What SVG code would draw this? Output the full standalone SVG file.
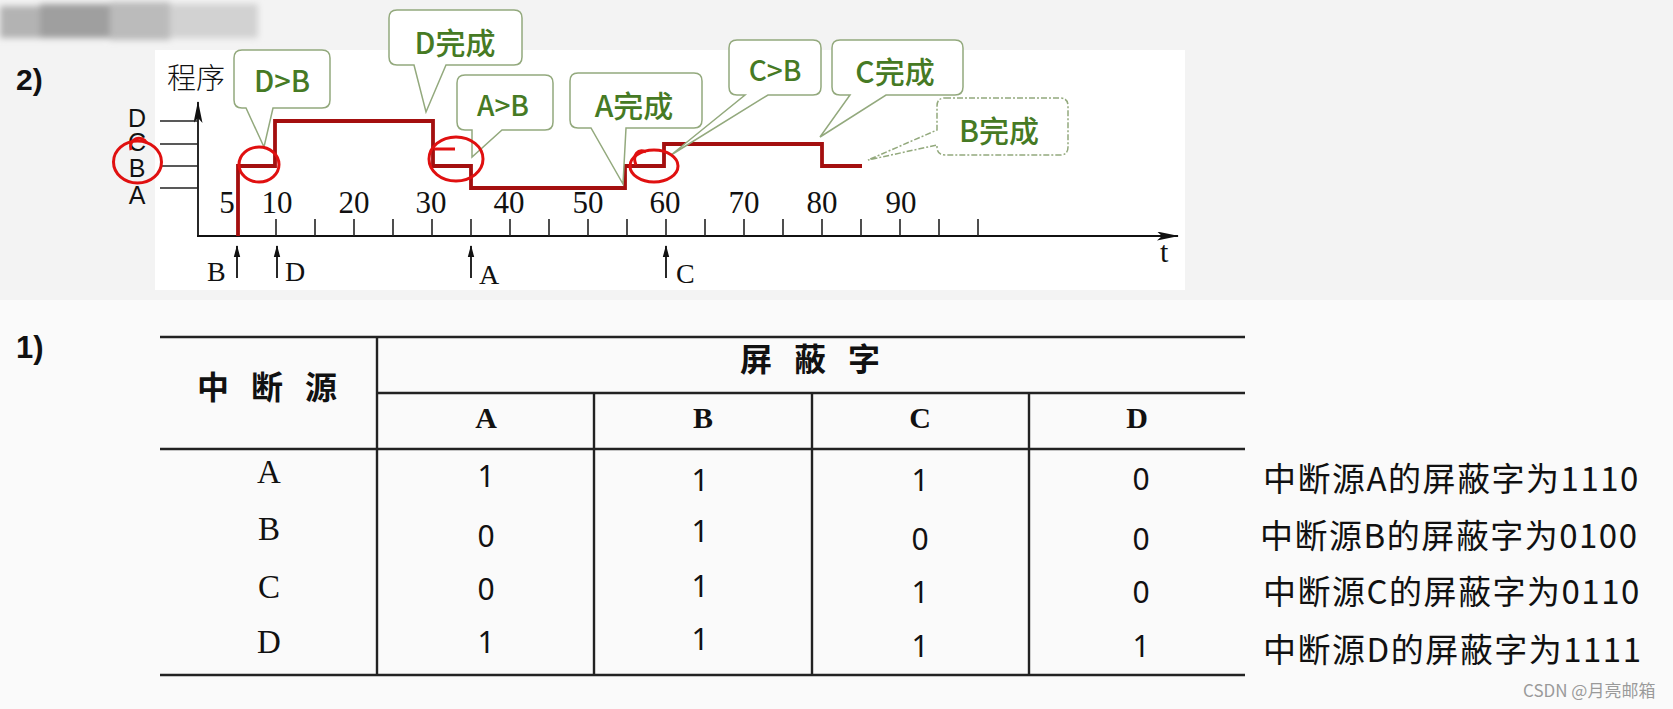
<svg xmlns="http://www.w3.org/2000/svg" width="1673" height="709" viewBox="0 0 1673 709">
<defs>
<filter id="blur" x="-20%" y="-50%" width="140%" height="200%"><feGaussianBlur stdDeviation="3"/></filter>
<marker id="ah" viewBox="0 0 12 8" refX="11" refY="4" markerWidth="12" markerHeight="8" markerUnits="userSpaceOnUse" orient="auto"><path d="M0,0.8 L12,4 L0,7.2 Z" fill="#111"/></marker>
<marker id="axh" viewBox="0 0 22 9" refX="21" refY="4.5" markerWidth="22" markerHeight="9" markerUnits="userSpaceOnUse" orient="auto"><path d="M0,0 L22,4.5 L0,9 L5,4.5 Z" fill="#111"/></marker>
</defs>
<style>
.ax{stroke:#111;stroke-width:1.8;fill:none}
.tick{stroke:#222;stroke-width:1.6}
.serif{font-family:"Liberation Serif","Times New Roman",serif;fill:#111}
.sans{font-family:"Liberation Sans",Arial,sans-serif;fill:#111}
.cjk{font-family:"Noto Sans CJK SC","Noto Sans",sans-serif;fill:#111}
.prog{stroke:#a40f0f;stroke-width:3.8;fill:none;stroke-linejoin:miter}
.ring{stroke:#e01010;stroke-width:3;fill:none}
.call{fill:#fff;stroke:#93a97d;stroke-width:1.5}
.callt{font-family:"Noto Sans CJK SC","Noto Sans",sans-serif;fill:#467a24;font-weight:500;text-anchor:middle}
.tl{stroke:#222;stroke-width:2.4}
.hd{font-family:"Noto Sans CJK SC",sans-serif;font-weight:700;font-size:32px;fill:#111}
.ch{font-family:"Liberation Serif",serif;font-weight:700;font-size:30px;text-anchor:middle;fill:#111}
.rl{font-family:"Liberation Serif",serif;font-size:33px;text-anchor:middle;fill:#111}
.val{font-family:"Noto Sans","Liberation Sans",sans-serif;font-size:30px;text-anchor:middle;fill:#111}
.note{font-family:"Noto Sans CJK SC",sans-serif;font-size:33px;letter-spacing:1.5px;fill:#111}
.yl{font-family:"Liberation Sans",Arial,sans-serif;font-size:25px;text-anchor:middle;fill:#111}
</style>
<rect x="0" y="0" width="1673" height="709" fill="#fafafa"/>
<rect x="0" y="0" width="1673" height="300" fill="#f3f3f3"/>
<g id="blurred" filter="url(#blur)">
<rect x="0" y="6" width="40" height="32" fill="#b3b3b3"/>
<rect x="40" y="4" width="70" height="34" fill="#9f9f9f"/>
<rect x="110" y="2" width="60" height="38" fill="#bbbbbb"/>
<rect x="170" y="4" width="88" height="34" fill="#d2d2d2"/>
</g>
<rect id="graph-bg" x="155" y="50" width="1030" height="240" fill="#ffffff"/>
<text class="sans" x="16" y="90" font-size="30" font-weight="700">2)</text>
<text class="sans" x="16" y="358" font-size="31" font-weight="700">1)</text>

<g id="axes">
<line class="ax" x1="198" y1="237" x2="198" y2="102" marker-end="url(#axh)"/>
<line class="ax" x1="197" y1="236" x2="1178" y2="236" marker-end="url(#axh)"/>
<text class="cjk" x="167" y="89" font-size="29" font-weight="300">程序</text>
<text class="serif" x="1160" y="262" font-size="30">t</text>
<g class="tick">
<line x1="160" y1="121" x2="198" y2="121"/><line x1="160" y1="144" x2="198" y2="144"/>
<line x1="160" y1="166" x2="198" y2="166"/><line x1="160" y1="188" x2="198" y2="188"/>
<line x1="276" y1="219" x2="276" y2="236"/><line x1="315" y1="219" x2="315" y2="236"/>
<line x1="354" y1="219" x2="354" y2="236"/><line x1="393" y1="219" x2="393" y2="236"/>
<line x1="432" y1="219" x2="432" y2="236"/><line x1="471" y1="219" x2="471" y2="236"/>
<line x1="510" y1="219" x2="510" y2="236"/><line x1="549" y1="219" x2="549" y2="236"/>
<line x1="588" y1="219" x2="588" y2="236"/><line x1="627" y1="219" x2="627" y2="236"/>
<line x1="666" y1="219" x2="666" y2="236"/><line x1="705" y1="219" x2="705" y2="236"/>
<line x1="744" y1="219" x2="744" y2="236"/><line x1="783" y1="219" x2="783" y2="236"/>
<line x1="822" y1="219" x2="822" y2="236"/><line x1="861" y1="219" x2="861" y2="236"/>
<line x1="900" y1="219" x2="900" y2="236"/><line x1="939" y1="219" x2="939" y2="236"/>
<line x1="978" y1="219" x2="978" y2="236"/>
</g>
<text class="yl" x="137" y="127">D</text>
<text class="yl" x="137" y="151">C</text>
<text class="yl" x="137" y="177">B</text>
<text class="yl" x="137" y="204">A</text>
<g class="serif" font-size="31" text-anchor="middle">
<text x="227" y="213">5</text><text x="277" y="213">10</text><text x="354" y="213">20</text>
<text x="431" y="213">30</text><text x="509" y="213">40</text><text x="588" y="213">50</text>
<text x="665" y="213">60</text><text x="744" y="213">70</text><text x="822" y="213">80</text>
<text x="901" y="213">90</text>
</g>
</g>

<g id="connectors">
<path class="prog" d="M238,236 V166 H275 V121 H433 V166 H471 V188 H625 V166 H664 V144 H822 V166 H862"/>
<line class="ax" x1="237" y1="278" x2="237" y2="246" marker-end="url(#ah)"/>
<line class="ax" x1="277" y1="278" x2="277" y2="246" marker-end="url(#ah)"/>
<line class="ax" x1="471" y1="278" x2="471" y2="246" marker-end="url(#ah)"/>
<line class="ax" x1="666" y1="278" x2="666" y2="246" marker-end="url(#ah)"/>
<g class="serif" font-size="28">
<text x="207" y="281">B</text><text x="285" y="281">D</text>
<text x="479" y="284">A</text><text x="676" y="283">C</text>
</g>
</g>

<g id="callout-DB"><path class="call" d="M242,50 H322 Q330,50 330,58 V100 Q330,108 322,108 H273 L264,147 L246,108 H242 Q234,108 234,100 V58 Q234,50 242,50 Z"/><text class="callt" x="282" y="92" font-size="29">D&gt;B</text></g>
<g id="callout-Ddone"><path class="call" d="M397,10 H514 Q522,10 522,18 V57 Q522,65 514,65 H446 L426,112 L414,65 H397 Q389,65 389,57 V18 Q389,10 397,10 Z"/><text class="callt" x="455" y="54" font-size="30">D完成</text></g>
<g id="callout-AB"><path class="call" d="M465,75 H545 Q553,75 553,83 V122 Q553,130 545,130 H502 L472,157 L472,130 H465 Q457,130 457,122 V83 Q457,75 465,75 Z"/><text class="callt" x="503" y="116" font-size="28">A&gt;B</text></g>
<g id="callout-Adone"><path class="call" d="M578,73 H694 Q702,73 702,81 V120 Q702,128 694,128 H626 L623,184 L591,128 H578 Q570,128 570,120 V81 Q570,73 578,73 Z"/><text class="callt" x="634" y="117" font-size="30">A完成</text></g>
<g id="callout-CB"><path class="call" d="M737,40 H813 Q821,40 821,48 V87 Q821,95 813,95 H768 L671,155 L745,95 H737 Q729,95 729,87 V48 Q729,40 737,40 Z"/><text class="callt" x="775" y="81" font-size="28">C&gt;B</text></g>
<g id="callout-Cdone"><path class="call" d="M840,40 H955 Q963,40 963,48 V87 Q963,95 955,95 H886 L820,137 L850,95 H840 Q832,95 832,87 V48 Q832,40 840,40 Z"/><text class="callt" x="895" y="83" font-size="30">C完成</text></g>
<g id="callout-Bdone"><path class="call" stroke="#a0a0a0" stroke-dasharray="6 2 2 2" d="M945,98 H1060 Q1068,98 1068,106 V147 Q1068,155 1060,155 H945 Q937,155 937,147 V145 L868,160 L937,130 V106 Q937,98 945,98 Z"/><text class="callt" x="999" y="142" font-size="30" fill="#5d7f4c" font-weight="400">B完成</text></g>

<g id="annotations">
<ellipse class="ring" cx="137.5" cy="162" rx="24" ry="21"/>
<path class="ring" d="M131,150 C128,139 141,134 147,143"/>
<ellipse class="ring" cx="259" cy="164.5" rx="20" ry="17.5"/>
<ellipse class="ring" cx="456" cy="159" rx="27" ry="22"/>
<path class="ring" d="M434,149 H455"/>
<ellipse class="ring" cx="654" cy="166" rx="24" ry="16"/>
<path class="ring" d="M636,165 C632,155 638,148 646,152"/>
</g>

<g id="table">
<line class="tl" x1="160" y1="337" x2="1245" y2="337"/>
<line class="tl" x1="377" y1="393" x2="1245" y2="393"/>
<line class="tl" x1="160" y1="449" x2="1245" y2="449"/>
<line class="tl" x1="160" y1="675" x2="1245" y2="675"/>
<line class="tl" x1="377" y1="337" x2="377" y2="675"/>
<line class="tl" x1="594" y1="393" x2="594" y2="675"/>
<line class="tl" x1="812" y1="393" x2="812" y2="675"/>
<line class="tl" x1="1029" y1="393" x2="1029" y2="675"/>
<text class="hd" x="197 232 251 288 305" y="399">中 断 源</text>
<text class="hd" x="740 776 794 830 848" y="371">屏 蔽 字</text>
<text class="ch" x="486" y="428">A</text><text class="ch" x="703" y="428">B</text>
<text class="ch" x="920" y="428">C</text><text class="ch" x="1137" y="428">D</text>
<text class="rl" x="269" y="483">A</text><text class="rl" x="269" y="540">B</text>
<text class="rl" x="269" y="598">C</text><text class="rl" x="269" y="653">D</text>
<text class="val" x="486" y="487">1</text><text class="val" x="700" y="491">1</text><text class="val" x="920" y="491">1</text><text class="val" x="1141" y="490">0</text>
<text class="val" x="486" y="547">0</text><text class="val" x="700" y="542">1</text><text class="val" x="920" y="550">0</text><text class="val" x="1141" y="550">0</text>
<text class="val" x="486" y="600">0</text><text class="val" x="700" y="597">1</text><text class="val" x="920" y="603">1</text><text class="val" x="1141" y="603">0</text>
<text class="val" x="486" y="653">1</text><text class="val" x="700" y="650">1</text><text class="val" x="920" y="657">1</text><text class="val" x="1141" y="657">1</text>
</g>

<g id="notes">
<text class="note" x="1263" y="491">中断源A的屏蔽字为1110</text>
<text class="note" x="1260" y="548">中断源B的屏蔽字为0100</text>
<text class="note" x="1263" y="604">中断源C的屏蔽字为0110</text>
<text class="note" x="1263" y="662">中断源D的屏蔽字为1111</text>
</g>
<text class="cjk" x="1523" y="697" font-size="17" style="fill:#9a9a9a">CSDN @月亮邮箱</text>
</svg>
